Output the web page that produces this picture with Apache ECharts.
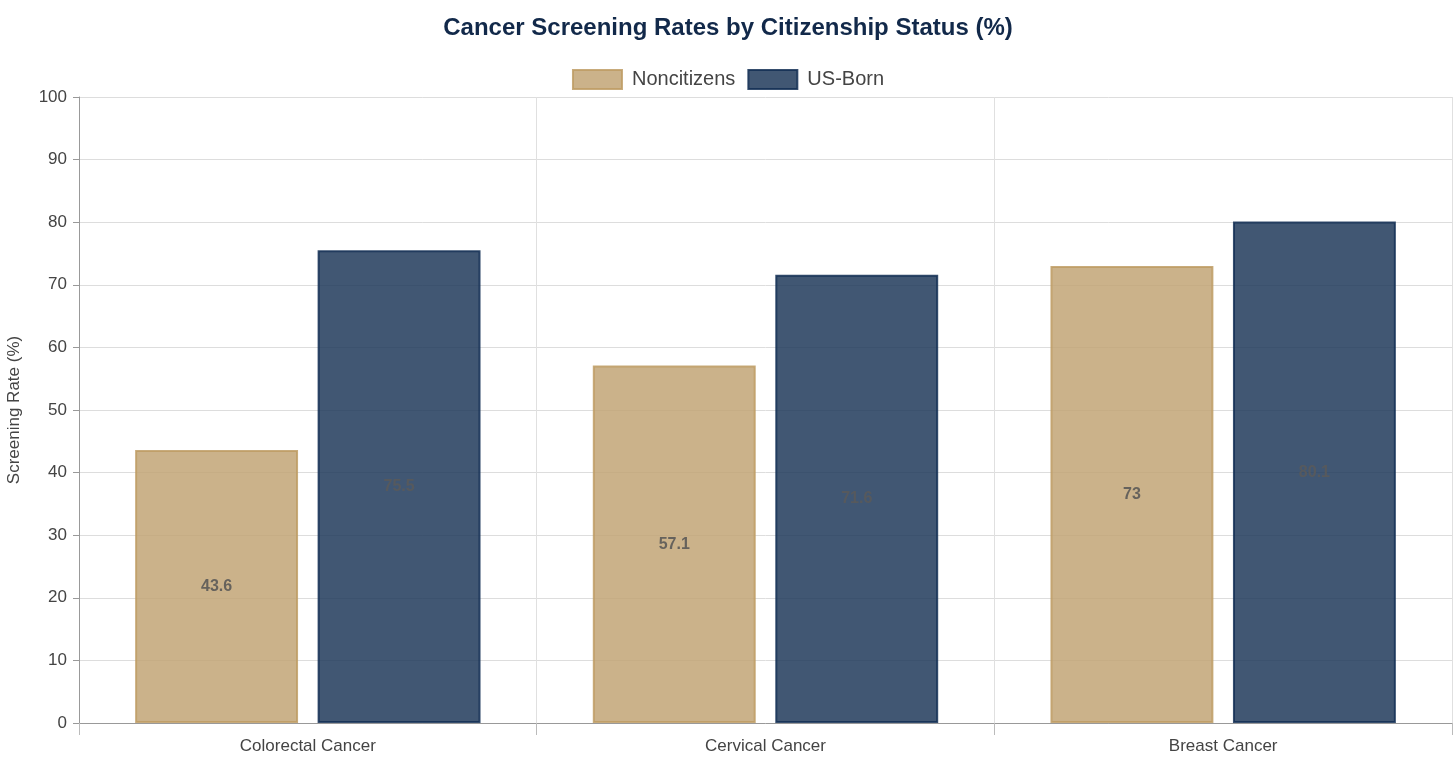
<!DOCTYPE html>
<html>
<head>
<meta charset="utf-8">
<script src="https://cdn.jsdelivr.net/npm/echarts@6/dist/echarts.min.js"></script>
<style>
html,body{margin:0;padding:0;background:#fff;}
#chart{width:1456px;height:764px;}
</style>
</head>
<body>
<div id="chart"></div>
<script>
// data
var categories = ['Colorectal Cancer', 'Cervical Cancer', 'Breast Cancer'];
var noncitizens = [43.6, 57.1, 73];
var usBorn = [75.5, 71.6, 80.1];

function initChart(){
  var chart = echarts.init(document.getElementById('chart'));
  var option = {
    textStyle: { fontFamily: 'Liberation Sans, Arial, sans-serif' },
    title: {
      text: 'Cancer Screening Rates by Citizenship Status (%)',
      left: 'center',
      top: 11,
      textStyle: { fontSize: 24, fontWeight: 'bold', color: '#12294A' }
    },
    legend: {
      top: 64,
      left: 'center',
      icon: 'rect',
      itemWidth: 49,
      itemHeight: 19,
      itemGap: 12,
      textStyle: { fontSize: 20, color: '#444', padding: [0, 0, 0, 5] },
      data: ['Noncitizens', 'US-Born']
    },
    grid: { left: 79, right: 4, top: 97, bottom: 41, containLabel: false, outerBoundsMode: 'none' },
    xAxis: {
      type: 'category',
      data: categories,
      axisLine: { lineStyle: { color: '#999' } },
      axisTick: { show: true, length: 12, lineStyle: { color: '#bbb' } },
      axisLabel: { fontSize: 17, color: '#444', margin: 15 },
      splitLine: { show: true, lineStyle: { color: '#e0e0e0' } }
    },
    yAxis: {
      type: 'value',
      min: 0, max: 100, interval: 10,
      name: 'Screening Rate (%)',
      nameLocation: 'middle',
      nameGap: 56,
      nameTextStyle: { fontSize: 17, color: '#444' },
      axisLine: { show: true, lineStyle: { color: '#999' } },
      axisTick: { show: true, length: 6, lineStyle: { color: '#999' } },
      axisLabel: { fontSize: 17, color: '#444', margin: 12 },
      splitLine: { lineStyle: { color: '#ddd' } }
    },
    series: [
      {
        name: 'Noncitizens',
        type: 'bar',
        data: noncitizens,
        barWidth: '35.6%',
        barGap: '12%',
        itemStyle: { color: '#C2A475', opacity: 0.85, borderColor: '#BE9C64', borderWidth: 2 },
        label: { show: true, position: 'inside', fontSize: 16, fontWeight: 'bold', color: '#555' }
      },
      {
        name: 'US-Born',
        type: 'bar',
        data: usBorn,
        barWidth: '35.6%',
        barGap: '12%',
        itemStyle: { color: '#20395B', opacity: 0.85, borderColor: '#132F55', borderWidth: 2 },
        label: { show: true, position: 'inside', fontSize: 16, fontWeight: 'bold', color: '#5a5a5a' }
      }
    ]
  };
  chart.setOption(option);
}

initChart();
</script>
</body>
</html>
